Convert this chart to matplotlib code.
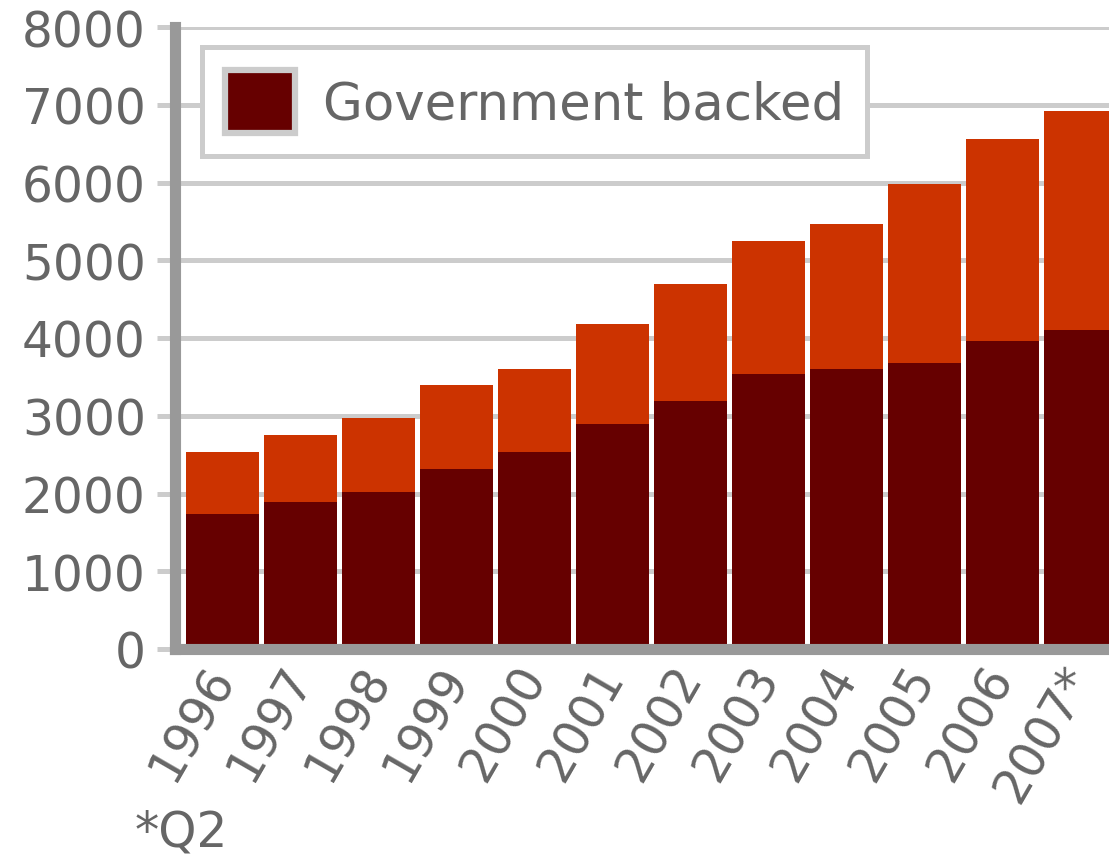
import matplotlib
matplotlib.use("Agg")
import matplotlib.pyplot as plt

years = ["1996", "1997", "1998", "1999", "2000", "2001",
         "2002", "2003", "2004", "2005", "2006", "2007*"]
# government backed part (dark) and total height of each bar
gov_backed = [1740, 1885, 2025, 2320, 2530, 2890, 3190, 3535, 3600, 3680, 3960, 4100]
totals = [2530, 2750, 2970, 3395, 3600, 4180, 4695, 5250, 5470, 5975, 6555, 6915]
other = [t - g for t, g in zip(totals, gov_backed)]

y_ticks = [0, 1000, 2000, 3000, 4000, 5000, 6000, 7000, 8000]

DARK = "#660000"
ORANGE = "#cc3300"
GRID = "#cccccc"
AXIS = "#999999"
TEXT = "#666666"

W, H = 1109, 862
fig = plt.figure(figsize=(W / 100, H / 100), dpi=100)
ax = fig.add_axes([175 / W, (H - 650) / H, (W - 175) / W, 622 / H])

x = list(range(len(years)))
ax.bar(x, gov_backed, width=0.936, color=DARK, label="Government backed", zorder=2)
ax.bar(x, other, bottom=gov_backed, width=0.936, color=ORANGE, zorder=2)

ax.set_xlim(-0.61, 11.37)
ax.set_ylim(0, 8000)
ax.set_yticks(y_ticks)
ax.set_yticklabels([str(v) for v in y_ticks])
ax.yaxis.grid(True, color=GRID, linewidth=3.6, zorder=0)
ax.set_axisbelow(True)

ax.tick_params(axis="y", length=13, width=3.6, color=GRID, pad=8,
               labelsize=35, labelcolor=TEXT)
ax.set_xticks(x)
ax.set_xticklabels(years, rotation=60, ha="right", rotation_mode="anchor",
                   va="center", fontsize=35, color=TEXT)
ax.tick_params(axis="x", length=0, pad=14)

for side in ["top", "right"]:
    ax.spines[side].set_visible(False)
for side in ["left", "bottom"]:
    ax.spines[side].set_color(AXIS)
    ax.spines[side].set_linewidth(8)
    ax.spines[side].set_zorder(3)

leg = ax.legend(loc="upper left", bbox_to_anchor=(202 / W, 1 - 48 / H),
                bbox_transform=fig.transFigure, borderaxespad=0,
                fontsize=37, handlelength=1.35, handleheight=1.5,
                handletextpad=0.55, borderpad=0.45, fancybox=False,
                framealpha=1, labelcolor=TEXT)
leg.get_frame().set_edgecolor(GRID)
leg.get_frame().set_linewidth(3.6)
for p in leg.get_patches():
    p.set_edgecolor(GRID)
    p.set_linewidth(4.5)

fig.text(135 / W, 5 / H, "*Q2", fontsize=35, color=TEXT,
         va="bottom", ha="left")

fig.savefig("out.png", dpi=100)
